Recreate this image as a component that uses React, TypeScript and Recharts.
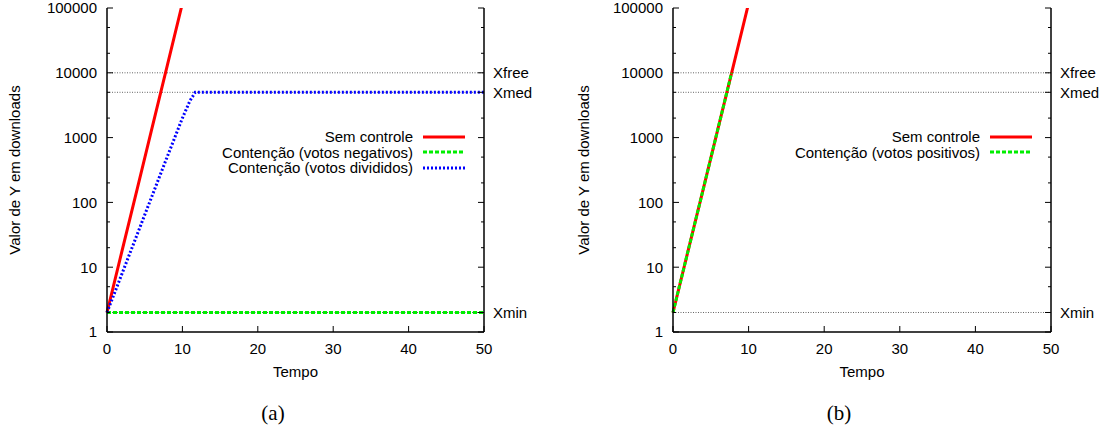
import { LineChart, Line, XAxis, YAxis } from "recharts";

const FONT = '"Liberation Sans", Arial, Helvetica, sans-serif';

const tempoTicks = [0, 10, 20, 30, 40, 50];
const yMajorTicks = [1, 10, 100, 1000, 10000, 100000];
const yMinorTicks = [2, 5, 20, 50, 200, 500, 2000, 5000, 20000, 50000];

const limiares = [
  { nome: "Xfree", valor: 10000 },
  { nome: "Xmed", valor: 5000 },
  { nome: "Xmin", valor: 2 },
];

// series (y on log scale)
const semControleTempo = [0, 2, 4, 6, 8, 10];
const semControleY = [2, 18, 160, 1450, 13000, 118000];

const negativosTempo = [0, 50];
const negativosY = [2, 2];

const divididosTempo = [0, 2, 4, 6, 8, 10, 11, 11.7, 50];
const divididosY = [2, 8, 32, 128, 510, 2000, 3700, 5000, 5000];

const positivosTempo = [0, 2, 4, 6, 7.75];
const positivosY = [2, 18, 160, 1450, 10000];

type Ponto = { t: number; v: number };
type Serie = { nome: string; cor: string; dash?: string; pontos: Ponto[] };

const pontos = (ts: number[], vs: number[]): Ponto[] =>
  ts.map((t, i) => ({ t, v: vs[i] }));

const seriesA: Serie[] = [
  { nome: "Sem controle", cor: "#ff0000", pontos: pontos(semControleTempo, semControleY) },
  { nome: "Contenção (votos negativos)", cor: "#00ee00", dash: "4 2", pontos: pontos(negativosTempo, negativosY) },
  { nome: "Contenção (votos divididos)", cor: "#0000ff", dash: "2 2", pontos: pontos(divididosTempo, divididosY) },
];

const seriesB: Serie[] = [
  { nome: "Sem controle", cor: "#ff0000", pontos: pontos(semControleTempo, semControleY) },
  { nome: "Contenção (votos positivos)", cor: "#00ee00", dash: "4 2", pontos: pontos(positivosTempo, positivosY) },
];

const CHART_H = 395;
const allY = [...yMajorTicks, ...yMinorTicks].sort((a, b) => a - b);
const majors = new Set(yMajorTicks);
const labelMap = new Map(limiares.map((l) => [l.valor, l.nome]));

const txt = { fontFamily: FONT, fontSize: 15, fill: "#000" };

function LeftTick(p: any) {
  const v = p.payload.value;
  const ax = p.x + 10;
  const len = majors.has(v) ? 6 : 3;
  return (
    <g>
      <line x1={ax} x2={ax + len} y1={p.y} y2={p.y} stroke="#000" />
      {majors.has(v) && (
        <text x={p.x} y={p.y} dy="0.36em" textAnchor="end" {...txt}>
          {v}
        </text>
      )}
    </g>
  );
}

function RightTick(p: any) {
  const v = p.payload.value;
  const ax = p.x - 9;
  const nome = labelMap.get(v);
  const len = majors.has(v) || nome ? 6 : 3;
  return (
    <g>
      <line x1={ax} x2={ax - len} y1={p.y} y2={p.y} stroke="#000" />
      {nome && (
        <text x={p.x} y={p.y} dy="0.36em" textAnchor="start" {...txt}>
          {nome}
        </text>
      )}
    </g>
  );
}

function BottomTick(p: any) {
  const ay = p.y - 11;
  return (
    <g>
      <line x1={p.x} x2={p.x} y1={ay} y2={ay - 6} stroke="#000" />
      <text x={p.x} y={p.y} dy="0.71em" textAnchor="middle" {...txt}>
        {p.payload.value}
      </text>
    </g>
  );
}

function TopTick(p: any) {
  return <line x1={p.x} x2={p.x} y1={p.y} y2={p.y + 6} stroke="#000" />;
}

function Panel({
  left,
  width,
  axisW,
  rightW,
  series,
  caption,
  captionX,
  labelOffset,
}: {
  left: number;
  width: number;
  axisW: number;
  rightW: number;
  series: Serie[];
  caption: string;
  captionX: number;
  labelOffset: number;
}) {
  return (
    <div style={{ position: "absolute", left, top: 0, width, height: 429 }}>
      <LineChart width={width} height={CHART_H} margin={{ top: 8, right: 0, bottom: 0, left: 0 }}>
        <XAxis
          dataKey="t"
          type="number"
          domain={[0, 50]}
          ticks={tempoTicks}
          interval={0}
          height={CHART_H - 332}
          tickLine={false}
          tickSize={0}
          tickMargin={11}
          tick={BottomTick}
          axisLine={{ stroke: "#000", strokeWidth: 1.5 }}
          label={{ value: "Tempo", position: "insideBottom", offset: 18, style: { ...txt } }}
        />
        <XAxis
          xAxisId="top"
          orientation="top"
          type="number"
          domain={[0, 50]}
          ticks={tempoTicks}
          interval={0}
          height={0}
          tickLine={false}
          tickSize={0}
          tickMargin={0}
          tick={TopTick}
          axisLine={{ stroke: "#000", strokeWidth: 1.5 }}
        />
        <YAxis
          type="number"
          scale="log"
          domain={[1, 100000]}
          allowDataOverflow
          ticks={allY}
          interval={0}
          width={axisW}
          tickLine={false}
          tickSize={0}
          tickMargin={10}
          tick={LeftTick}
          axisLine={{ stroke: "#000", strokeWidth: 1.5 }}
          label={{
            value: "Valor de Y em downloads",
            angle: -90,
            position: "insideLeft",
            offset: labelOffset,
            style: { ...txt, textAnchor: "middle" },
          }}
        />
        <YAxis
          yAxisId="right"
          orientation="right"
          type="number"
          scale="log"
          domain={[1, 100000]}
          allowDataOverflow
          ticks={allY}
          interval={0}
          width={rightW}
          tickLine={false}
          tickSize={0}
          tickMargin={9}
          tick={RightTick}
          axisLine={{ stroke: "#000", strokeWidth: 1.5 }}
        />
        {limiares.map((l) => (
          <Line
            key={l.nome}
            data={[
              { t: 0, v: l.valor },
              { t: 50, v: l.valor },
            ]}
            dataKey="v"
            stroke="#666"
            strokeWidth={1}
            strokeDasharray="1 1.5"
            dot={false}
            activeDot={false}
            isAnimationActive={false}
          />
        ))}
        {series.map((s) => (
          <Line
            key={s.nome}
            data={s.pontos}
            dataKey="v"
            stroke={s.cor}
            strokeWidth={3}
            strokeDasharray={s.dash}
            dot={false}
            activeDot={false}
            isAnimationActive={false}
          />
        ))}
      </LineChart>
      <div
        style={{
          position: "absolute",
          top: 129,
          right: rightW + 19,
          fontFamily: FONT,
          fontSize: 15,
          color: "#000",
        }}
      >
        {series.map((s) => (
          <div
            key={s.nome}
            style={{ display: "flex", alignItems: "center", justifyContent: "flex-end", height: 15.5 }}
          >
            <span style={{ whiteSpace: "nowrap" }}>{s.nome}</span>
            <svg width={42} height={6} style={{ marginLeft: 10 }}>
              <line x1={0} x2={42} y1={3} y2={3} stroke={s.cor} strokeWidth={3} strokeDasharray={s.dash} />
            </svg>
          </div>
        ))}
      </div>
      <div
        style={{
          position: "absolute",
          left: captionX - 40,
          width: 80,
          top: 400,
          textAlign: "center",
          fontFamily: '"Liberation Serif", "DejaVu Serif", serif',
          fontSize: 21,
          lineHeight: "26px",
          color: "#000",
        }}
      >
        {caption}
      </div>
    </div>
  );
}

export default function App() {
  return (
    <div style={{ position: "absolute", left: 0, top: 0, width: 1106, height: 429, background: "#fff" }}>
      <Panel left={0} width={560} axisW={107} rightW={76} series={seriesA} caption="(a)" captionX={273} labelOffset={15} />
      <Panel left={560} width={546} axisW={113} rightW={55} series={seriesB} caption="(b)" captionX={279} labelOffset={24} />
    </div>
  );
}
